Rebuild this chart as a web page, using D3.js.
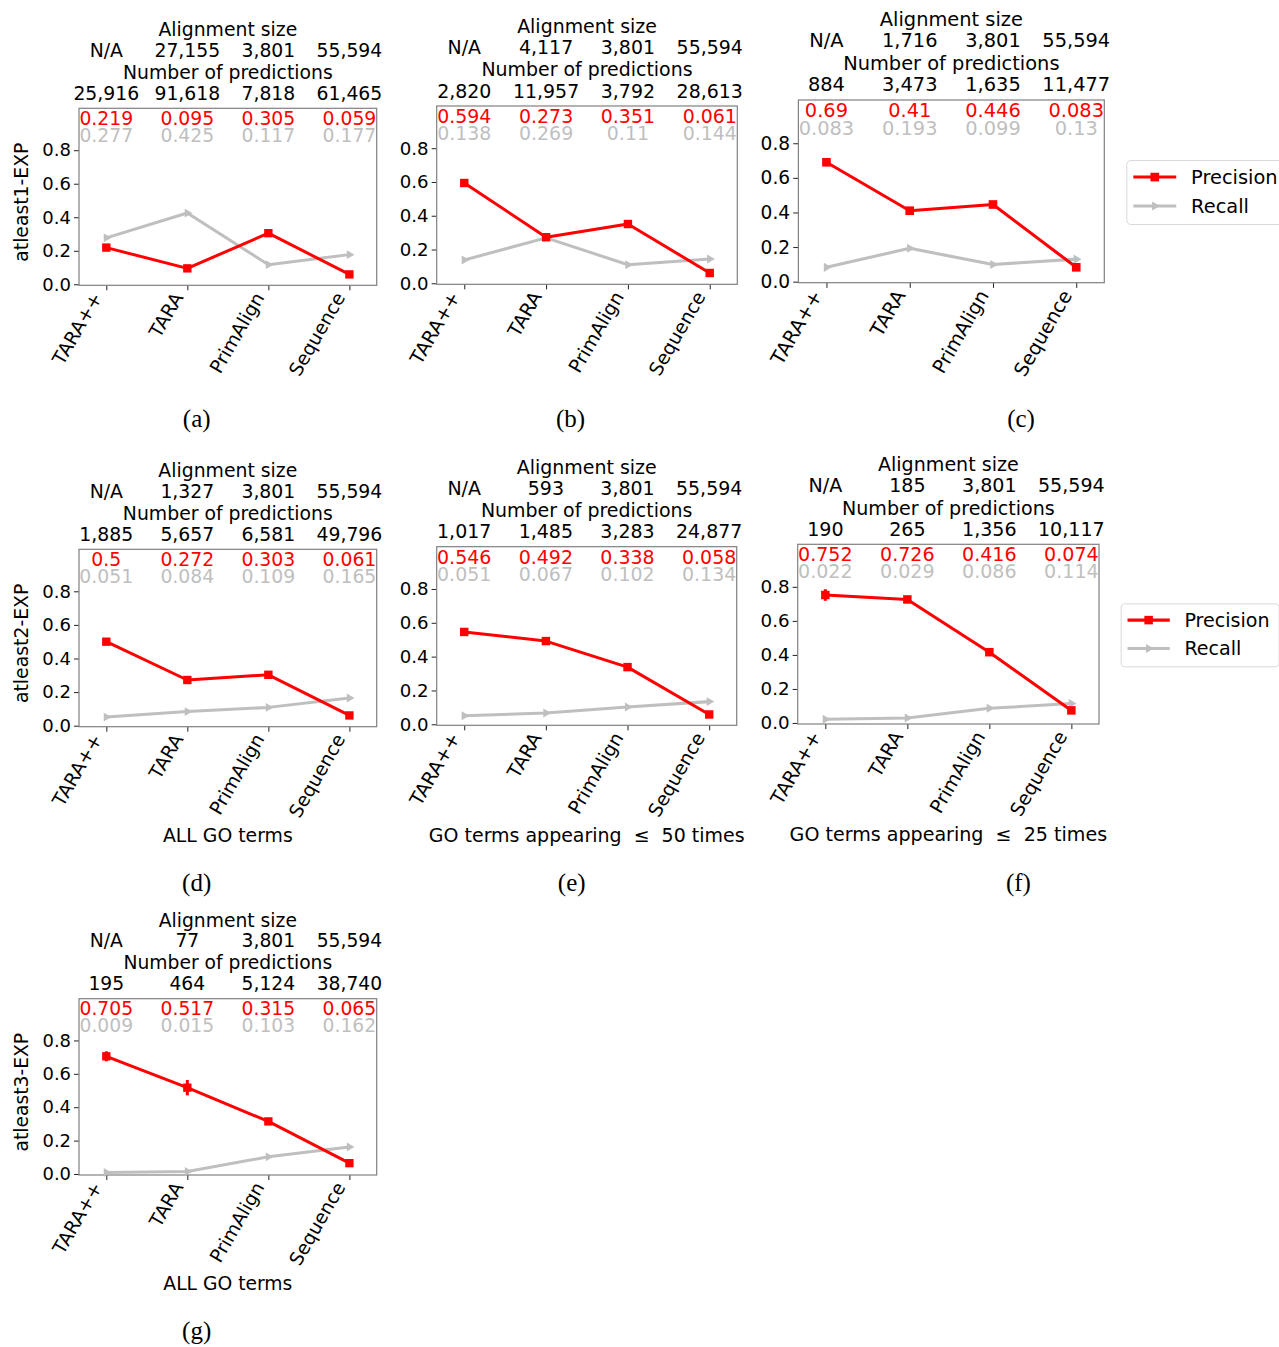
<!DOCTYPE html>
<html>
<head>
<meta charset="utf-8">
<script src="https://cdn.jsdelivr.net/npm/d3@7"></script>
<style>
  body { margin: 0; background: #fff; }
  svg { display: block; }
</style>
</head>
<body>
<script>
// ---- data ----
const methods = ["TARA++", "TARA", "PrimAlign", "Sequence"];
const seriesNames = ["Precision", "Recall"];
const rowLabels = ["atleast1-EXP", "atleast2-EXP", "atleast3-EXP"];
const goLabels = ["ALL GO terms", "GO terms appearing ≤ 50 times", "GO terms appearing ≤ 25 times"];
const captions = ["(a)", "(b)", "(c)", "(d)", "(e)", "(f)", "(g)"];
const yTicks = [0, 0.2, 0.4, 0.6, 0.8];

const alignmentSize = [
  ["N/A", "27,155", "3,801", "55,594"],
  ["N/A", "4,117", "3,801", "55,594"],
  ["N/A", "1,716", "3,801", "55,594"],
  ["N/A", "1,327", "3,801", "55,594"],
  ["N/A", "593", "3,801", "55,594"],
  ["N/A", "185", "3,801", "55,594"],
  ["N/A", "77", "3,801", "55,594"]
];
const numPredictions = [
  ["25,916", "91,618", "7,818", "61,465"],
  ["2,820", "11,957", "3,792", "28,613"],
  ["884", "3,473", "1,635", "11,477"],
  ["1,885", "5,657", "6,581", "49,796"],
  ["1,017", "1,485", "3,283", "24,877"],
  ["190", "265", "1,356", "10,117"],
  ["195", "464", "5,124", "38,740"]
];
const precision = [
  [0.219, 0.095, 0.305, 0.059],
  [0.594, 0.273, 0.351, 0.061],
  [0.69, 0.41, 0.446, 0.083],
  [0.5, 0.272, 0.303, 0.061],
  [0.546, 0.492, 0.338, 0.058],
  [0.752, 0.726, 0.416, 0.074],
  [0.705, 0.517, 0.315, 0.065]
];
const recall = [
  [0.277, 0.425, 0.117, 0.177],
  [0.138, 0.269, 0.11, 0.144],
  [0.083, 0.193, 0.099, 0.13],
  [0.051, 0.084, 0.109, 0.165],
  [0.051, 0.067, 0.102, 0.134],
  [0.022, 0.029, 0.086, 0.114],
  [0.009, 0.015, 0.103, 0.162]
];
// error bar half-widths on precision (estimated)
const precisionErr = [
  [0.005, 0.003, 0.008, 0.003],
  [0.008, 0.005, 0.008, 0.003],
  [0.012, 0.008, 0.008, 0.004],
  [0.008, 0.006, 0.006, 0.003],
  [0.016, 0.01, 0.012, 0.004],
  [0.034, 0.02, 0.012, 0.005],
  [0.03, 0.046, 0.012, 0.005]
];

// ---- layout (pixel boxes of each subplot) ----
const layout = [
  { left: 79, right: 376.7, top: 108.3, bottom: 285.3, ylab: 0, xlab: null, cap: [196.7, 427], legend: false },
  { left: 436.7, right: 737.3, top: 106, bottom: 284.3, ylab: null, xlab: null, cap: [570.5, 427], legend: false },
  { left: 798.4, right: 1104.3, top: 100, bottom: 282.7, ylab: null, xlab: null, cap: [1021, 427], legend: true },
  { left: 79, right: 376.7, top: 549.3, bottom: 726.7, ylab: 1, xlab: 0, cap: [196.7, 890.5], legend: false },
  { left: 436.7, right: 736.7, top: 546.7, bottom: 725.3, ylab: null, xlab: 1, cap: [571.7, 890.5], legend: false },
  { left: 797.7, right: 1099, top: 544.3, bottom: 724, ylab: null, xlab: 2, cap: [1018.4, 890.5], legend: true },
  { left: 79, right: 376.7, top: 998.7, bottom: 1175, ylab: 2, xlab: 0, cap: [196.7, 1339], legend: false }
];

const RED = "#ff0000", GREY = "#bfbfbf";
const FONT = "DejaVu Sans, sans-serif";

const svg = d3.select("body").append("svg")
  .attr("width", 1279).attr("height", 1347)
  .style("font-family", FONT);
svg.append("rect").attr("width", 1279).attr("height", 1347).attr("fill", "#fff");

const yDomain = [-0.006, 1.05];

layout.forEach((L, i) => {
  const g = svg.append("g").attr("class", "panel-" + captions[i]);
  const x = d3.scalePoint().domain(methods).range([L.left, L.right]).padding(0.337);
  const y = d3.scaleLinear().domain(yDomain).range([L.bottom, L.top]);
  const unit = (L.bottom - L.top) / (yDomain[1] - yDomain[0]);
  const s = unit / 167.6;
  const fs = 18.8 * s;   // text size
  const ts = 18 * s;     // y tick label size
  const cx = (L.left + L.right) / 2;

  // header texts above the plot
  g.append("text").attr("x", cx).attr("y", y(1.48)).attr("text-anchor", "middle")
    .style("font-size", fs + "px").text("Alignment size");
  g.append("text").attr("x", cx).attr("y", y(1.225)).attr("text-anchor", "middle")
    .style("font-size", fs + "px").text("Number of predictions");
  methods.forEach((m, j) => {
    g.append("text").attr("x", x(m)).attr("y", y(1.358)).attr("text-anchor", "middle")
      .style("font-size", fs + "px").text(alignmentSize[i][j]);
    g.append("text").attr("x", x(m)).attr("y", y(1.1)).attr("text-anchor", "middle")
      .style("font-size", fs + "px").text(numPredictions[i][j]);
  });

  // y axis
  const ya = g.append("g").attr("transform", `translate(${L.left},0)`)
    .call(d3.axisLeft(y).tickValues(yTicks).tickFormat(d3.format(".1f"))
      .tickSize(5 * s).tickPadding(3 * s));
  ya.select(".domain").remove();
  ya.selectAll("line").attr("stroke", "#222").attr("stroke-width", 1);
  ya.selectAll("text").style("font-size", ts + "px").style("font-family", FONT).attr("fill", "#000");

  // x axis with rotated labels
  const xa = g.append("g").attr("transform", `translate(0,${L.bottom})`)
    .call(d3.axisBottom(x).tickSize(5 * s));
  xa.select(".domain").remove();
  xa.selectAll("line").attr("stroke", "#222").attr("stroke-width", 1);
  xa.selectAll("text")
    .style("font-size", fs + "px").style("font-family", FONT).attr("fill", "#000")
    .attr("x", 0).attr("y", 0).attr("dy", 0)
    .attr("text-anchor", "end")
    .attr("transform", `translate(${-4 * s},${12 * s}) rotate(-60)`);

  // frame
  g.append("rect").attr("x", L.left).attr("y", L.top)
    .attr("width", L.right - L.left).attr("height", L.bottom - L.top)
    .attr("fill", "none").attr("stroke", "#808080").attr("stroke-width", 1.2);

  // value labels inside the frame
  methods.forEach((m, j) => {
    g.append("text").attr("x", x(m)).attr("y", y(0.95)).attr("text-anchor", "middle")
      .attr("fill", RED).style("font-size", fs + "px").text(String(precision[i][j]));
    g.append("text").attr("x", x(m)).attr("y", y(0.85)).attr("text-anchor", "middle")
      .attr("fill", GREY).style("font-size", fs + "px").text(String(recall[i][j]));
  });

  const line = d3.line().x((d, j) => x(methods[j])).y(d => y(d));

  // recall
  g.append("path").datum(recall[i]).attr("d", line)
    .attr("fill", "none").attr("stroke", GREY).attr("stroke-width", 3 * s)
    .attr("stroke-linejoin", "round");
  g.selectAll(".rec-mark").data(recall[i]).join("path").attr("class", "rec-mark")
    .attr("d", d3.symbol(d3.symbolTriangle, 34 * s * s))
    .attr("transform", (d, j) => `translate(${x(methods[j])},${y(d)}) rotate(90)`)
    .attr("fill", GREY);

  // precision
  g.append("path").datum(precision[i]).attr("d", line)
    .attr("fill", "none").attr("stroke", RED).attr("stroke-width", 3 * s)
    .attr("stroke-linejoin", "round");
  g.selectAll(".err").data(precision[i]).join("line").attr("class", "err")
    .attr("x1", (d, j) => x(methods[j])).attr("x2", (d, j) => x(methods[j]))
    .attr("y1", (d, j) => y(d - precisionErr[i][j])).attr("y2", (d, j) => y(d + precisionErr[i][j]))
    .attr("stroke", RED).attr("stroke-width", 3 * s);
  g.selectAll(".prec-mark").data(precision[i]).join("path").attr("class", "prec-mark")
    .attr("d", d3.symbol(d3.symbolSquare, 70 * s * s))
    .attr("transform", (d, j) => `translate(${x(methods[j])},${y(d)})`)
    .attr("fill", RED);

  // y label
  if (L.ylab !== null) {
    g.append("text").attr("text-anchor", "middle")
      .attr("transform", `translate(28.3,${y(0.49)}) rotate(-90)`)
      .style("font-size", fs + "px").text(rowLabels[L.ylab]);
  }
  // x label
  if (L.xlab !== null) {
    g.append("text").attr("x", cx).attr("y", y(-0.695)).attr("text-anchor", "middle")
      .style("font-size", fs + "px")
      .text(goLabels[L.xlab].replace(" ≤ ", "\u00a0\u00a0≤\u00a0\u00a0"));
  }
  // caption
  g.append("text").attr("x", L.cap[0]).attr("y", L.cap[1]).attr("text-anchor", "middle")
    .style("font-family", "Liberation Serif, Times New Roman, serif").style("font-size", "25px")
    .text(captions[i]);

  // legend
  if (L.legend) {
    const lx = L.right + 21.8 * s, ly = y(0.70);
    const lg = g.append("g").attr("transform", `translate(${lx},${ly})`);
    lg.append("rect").attr("width", 155.6 * s).attr("height", 62 * s).attr("rx", 4 * s)
      .attr("fill", "#fff").attr("stroke", "#d8d8d8").attr("stroke-width", 1);
    const colors = [RED, GREY];
    seriesNames.forEach((name, k) => {
      const ry = (16 + 28 * k) * s;
      lg.append("line").attr("x1", 6.3 * s).attr("x2", 47.9 * s).attr("y1", ry).attr("y2", ry)
        .attr("stroke", colors[k]).attr("stroke-width", 3 * s);
      lg.append("path")
        .attr("d", d3.symbol(k === 0 ? d3.symbolSquare : d3.symbolTriangle, (k === 0 ? 70 : 34) * s * s))
        .attr("transform", `translate(${27.1 * s},${ry})` + (k === 1 ? " rotate(90)" : ""))
        .attr("fill", colors[k]);
      lg.append("text").attr("x", 62.3 * s).attr("y", ry + 6.6 * s)
        .style("font-size", fs + "px").text(name);
    });
  }
});
</script>
</body>
</html>
